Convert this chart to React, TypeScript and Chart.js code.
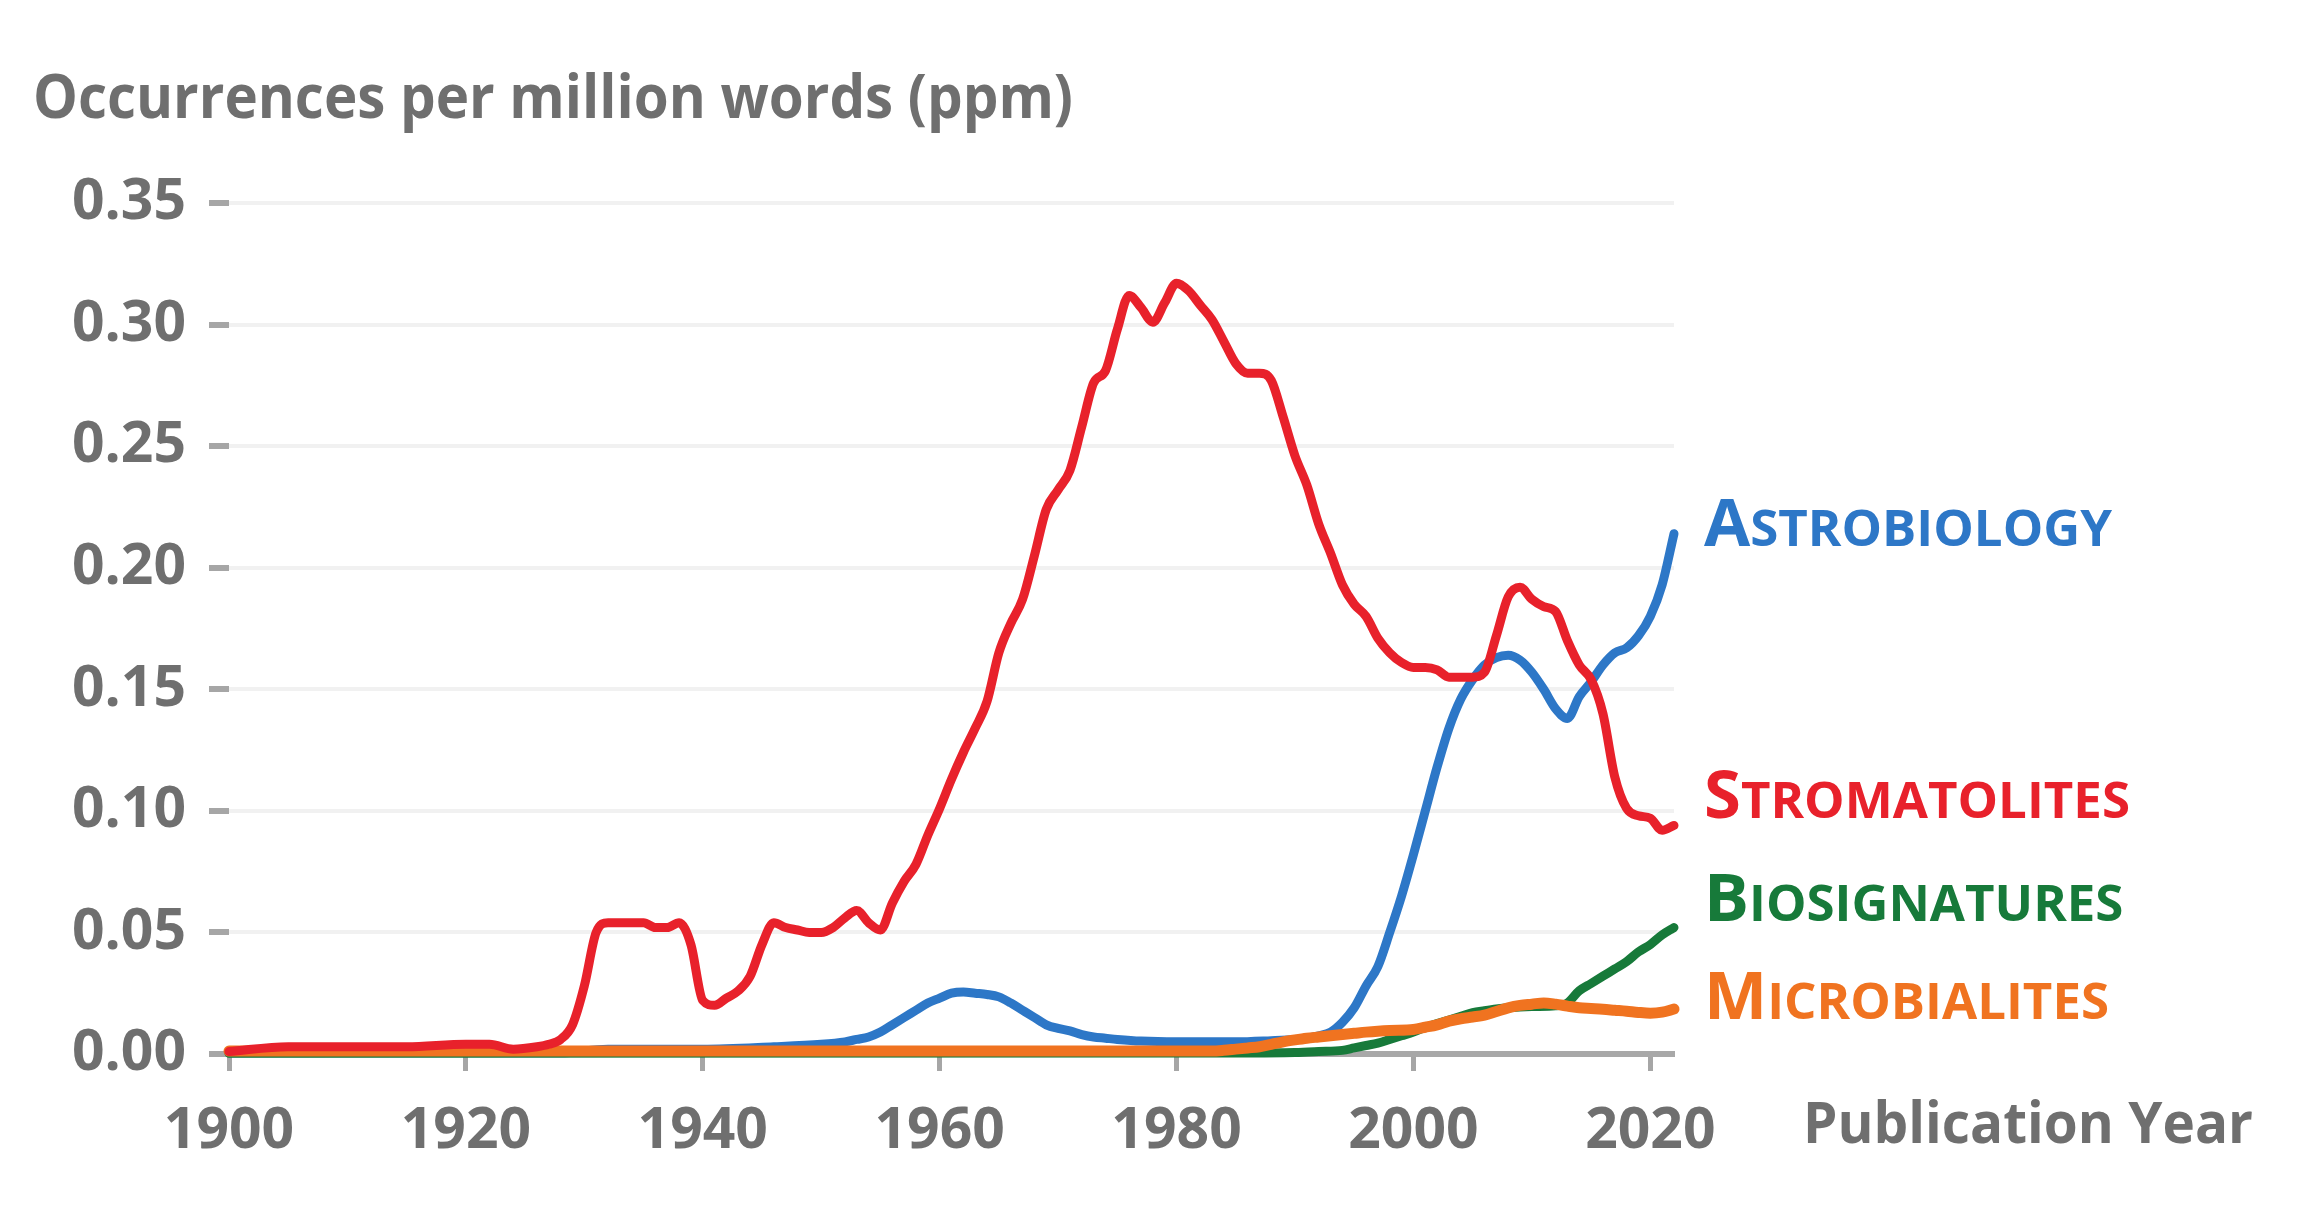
import { useEffect, useRef } from "react";
import { Chart, ChartConfiguration, registerables } from "chart.js";

Chart.register(...registerables);

// [year, occurrences per million words]
const ASTROBIOLOGY: [number, number][] = [
  [1900, 0.0005], [1928, 0.0005], [1932, 0.002], [1940, 0.002], [1946, 0.003], [1950, 0.004],
  [1952, 0.005], [1953, 0.006], [1954, 0.007], [1955, 0.009], [1956, 0.012], [1957, 0.015],
  [1958, 0.018], [1959, 0.021], [1960, 0.023], [1961, 0.025], [1962, 0.0255], [1963, 0.025],
  [1964, 0.0245], [1965, 0.0235], [1966, 0.021], [1967, 0.018], [1968, 0.015], [1969, 0.012],
  [1970, 0.0105], [1971, 0.0095], [1972, 0.008], [1973, 0.007], [1974, 0.0065], [1975, 0.006],
  [1977, 0.0053], [1980, 0.005], [1985, 0.005], [1988, 0.0055], [1990, 0.006], [1991, 0.0065],
  [1992, 0.0075], [1993, 0.009], [1994, 0.013], [1995, 0.019], [1996, 0.028], [1997, 0.036],
  [1998, 0.05], [1999, 0.065], [2000, 0.082], [2001, 0.1], [2002, 0.118], [2003, 0.134],
  [2004, 0.146], [2005, 0.154], [2006, 0.16], [2007, 0.163], [2008, 0.164], [2009, 0.162],
  [2010, 0.157], [2011, 0.15], [2012, 0.142], [2013, 0.138], [2014, 0.147], [2015, 0.153],
  [2016, 0.16], [2017, 0.165], [2018, 0.167], [2019, 0.172], [2020, 0.18], [2021, 0.193],
  [2022, 0.214],
];

const STROMATOLITES: [number, number][] = [
  [1900, 0.001], [1905, 0.003], [1910, 0.003], [1915, 0.003], [1920, 0.004], [1922, 0.004],
  [1924, 0.002], [1926, 0.003], [1927, 0.004], [1928, 0.006], [1929, 0.012], [1930, 0.028],
  [1931, 0.05], [1932, 0.054], [1933, 0.054], [1934, 0.054], [1935, 0.054], [1936, 0.052],
  [1937, 0.052], [1938, 0.054], [1939, 0.045], [1940, 0.022], [1941, 0.02], [1942, 0.023],
  [1943, 0.026], [1944, 0.032], [1945, 0.045], [1946, 0.054], [1947, 0.052], [1948, 0.051],
  [1949, 0.05], [1950, 0.05], [1951, 0.052], [1952, 0.056], [1953, 0.059], [1954, 0.054],
  [1955, 0.051], [1956, 0.062], [1957, 0.071], [1958, 0.078], [1959, 0.09], [1960, 0.101],
  [1961, 0.113], [1962, 0.124], [1963, 0.134], [1964, 0.145], [1965, 0.165], [1966, 0.177],
  [1967, 0.187], [1968, 0.205], [1969, 0.224], [1970, 0.232], [1971, 0.24], [1972, 0.258],
  [1973, 0.276], [1974, 0.281], [1975, 0.298], [1976, 0.312], [1977, 0.307], [1978, 0.301],
  [1979, 0.309], [1980, 0.317], [1981, 0.314], [1982, 0.308], [1983, 0.302], [1984, 0.293],
  [1985, 0.284], [1986, 0.28], [1987, 0.28], [1988, 0.277], [1989, 0.262], [1990, 0.246],
  [1991, 0.234], [1992, 0.218], [1993, 0.206], [1994, 0.193], [1995, 0.185], [1996, 0.18],
  [1997, 0.171], [1998, 0.165], [1999, 0.161], [2000, 0.159], [2001, 0.159], [2002, 0.158],
  [2003, 0.155], [2004, 0.155], [2005, 0.155], [2006, 0.157], [2007, 0.172], [2008, 0.188],
  [2009, 0.192], [2010, 0.187], [2011, 0.184], [2012, 0.182], [2013, 0.17], [2014, 0.16],
  [2015, 0.154], [2016, 0.14], [2017, 0.114], [2018, 0.101], [2019, 0.098], [2020, 0.097],
  [2021, 0.092], [2022, 0.094],
];

const BIOSIGNATURES: [number, number][] = [
  [1900, 0.0003], [1985, 0.0004], [1990, 0.0006], [1992, 0.001], [1994, 0.0015], [1995, 0.0025],
  [1996, 0.0035], [1997, 0.0045], [1998, 0.006], [1999, 0.0075], [2000, 0.009], [2001, 0.011],
  [2002, 0.0125], [2003, 0.014], [2004, 0.0155], [2005, 0.017], [2006, 0.0178], [2007, 0.0185],
  [2008, 0.019], [2010, 0.0195], [2012, 0.0198], [2013, 0.021], [2014, 0.026], [2015, 0.029],
  [2016, 0.032], [2017, 0.035], [2018, 0.038], [2019, 0.042], [2020, 0.045], [2021, 0.049],
  [2022, 0.052],
];

const MICROBIALITES: [number, number][] = [
  [1900, 0.0012], [1983, 0.0012], [1984, 0.0015], [1985, 0.002], [1986, 0.0025], [1987, 0.003],
  [1988, 0.004], [1989, 0.005], [1990, 0.0058], [1991, 0.0065], [1992, 0.007], [1993, 0.0075],
  [1994, 0.008], [1995, 0.0085], [1996, 0.009], [1997, 0.0094], [1998, 0.0097], [2000, 0.0101],
  [2001, 0.011], [2002, 0.012], [2003, 0.0135], [2004, 0.0145], [2005, 0.0152], [2006, 0.016],
  [2007, 0.0175], [2008, 0.019], [2009, 0.02], [2010, 0.0205], [2011, 0.021], [2012, 0.0205],
  [2013, 0.0197], [2014, 0.019], [2015, 0.0187], [2016, 0.0184], [2017, 0.018], [2018, 0.0176],
  [2019, 0.0171], [2020, 0.0168], [2021, 0.0172], [2022, 0.0185],
];

const SERIES_NAMES = ["Astrobiology", "Stromatolites", "Biosignatures", "Microbialites"];
// value on the y scale where each name sits (baseline)
const NAME_LEVELS = [0.209, 0.097, 0.0546, 0.0146];
const Y_TICKS = [0, 0.05, 0.1, 0.15, 0.2, 0.25, 0.3, 0.35];

const COLORS = ["#2D77C7", "#E8212B", "#177A3A", "#F07320"];
const TEXT_GRAY = "#6F6F6F";
const FONT = '"Open Sans", "DejaVu Sans", sans-serif';

const textPlugin = {
  id: "directLabels",
  afterDraw(chart: Chart) {
    const { ctx, chartArea, scales } = chart;
    ctx.save();
    ctx.fillStyle = TEXT_GRAY;
    ctx.textAlign = "left";
    ctx.textBaseline = "alphabetic";
    ctx.font = `bold 60px ${FONT}`;
    ctx.fillText("Occurrences per million words (ppm)", 33, 118, 1040);
    ctx.font = `bold 58px ${FONT}`;
    ctx.fillText("Publication Year", 1803, 1143, 450);

    const x0 = chartArea.right + 30;
    SERIES_NAMES.forEach((name, i) => {
      const y = scales.y.getPixelForValue(NAME_LEVELS[i]);
      ctx.fillStyle = COLORS[i];
      ctx.font = `bold 67px ${FONT}`;
      const first = name[0].toUpperCase();
      ctx.fillText(first, x0, y);
      const w = ctx.measureText(first).width;
      ctx.font = `bold 51px ${FONT}`;
      ctx.fillText(name.slice(1).toUpperCase(), x0 + w, y);
    });
    ctx.restore();
  },
};

function WordFrequencyChart() {
  const canvasRef = useRef<HTMLCanvasElement>(null);
  const chartRef = useRef<Chart | null>(null);

  useEffect(() => {
    document.body.style.margin = "0";
    if (!canvasRef.current) return;
    const ctx = canvasRef.current.getContext("2d");
    if (!ctx) return;

    if (chartRef.current) chartRef.current.destroy();

    const all = [ASTROBIOLOGY, STROMATOLITES, BIOSIGNATURES, MICROBIALITES];
    // red on top, then orange, green, blue underneath
    const drawOrder = [3, 0, 2, 1];

    const config: ChartConfiguration = {
      type: "line",
      data: {
        datasets: all.map((pts, i) => ({
          label: SERIES_NAMES[i],
          data: pts.map(([x, y]) => ({ x, y })),
          borderColor: COLORS[i],
          borderWidth: i === 3 ? 11 : 9,
          borderCapStyle: "round" as const,
          borderJoinStyle: "round" as const,
          pointRadius: 0,
          fill: false,
          cubicInterpolationMode: "monotone" as const,
          order: drawOrder[i],
          clip: 8,
        })),
      },
      options: {
        animation: false,
        responsive: true,
        maintainAspectRatio: false,
        events: [],
        layout: { padding: { top: 203, right: 637, left: 0, bottom: 0 } },
        plugins: {
          legend: { display: false },
          tooltip: { enabled: false },
          title: { display: false },
        },
        scales: {
          x: {
            type: "linear",
            min: 1900,
            max: 2022,
            afterFit: (s: any) => {
              s.height = 176;
            },
            grid: {
              drawOnChartArea: false,
              drawTicks: true,
              tickLength: 17,
              tickColor: "#A6A6A6",
              tickWidth: 5,
            },
            border: { display: true, color: "#A8A8A8", width: 6 },
            ticks: {
              stepSize: 20,
              includeBounds: false,
              padding: 27,
              color: TEXT_GRAY,
              font: { family: FONT, size: 57, weight: "bold" },
              callback: (v: any) => String(v),
              maxRotation: 0,
            },
          },
          y: {
            min: 0,
            max: 0.35,
            afterFit: (s: any) => {
              s.width = 229;
            },
            afterBuildTicks: (s: any) => {
              s.ticks = Y_TICKS.map((value) => ({ value }));
            },
            grid: {
              color: (c: any) => (c.tick && c.tick.value === 0 ? "rgba(0,0,0,0)" : "#F1F1F1"),
              lineWidth: 4,
              drawTicks: true,
              tickLength: 20,
              tickColor: "#A6A6A6",
              tickWidth: 6,
            },
            border: { display: false },
            ticks: {
              padding: 23,
              color: TEXT_GRAY,
              font: { family: FONT, size: 57, weight: "bold" },
              callback: (v: any) => Number(v).toFixed(2),
            },
          },
        },
      },
      plugins: [textPlugin],
    };

    chartRef.current = new Chart(ctx, config);

    return () => {
      if (chartRef.current) {
        chartRef.current.destroy();
        chartRef.current = null;
      }
    };
  }, []);

  return (
    <div style={{ width: "2311px", height: "1230px", position: "relative", background: "#fff" }}>
      <canvas ref={canvasRef} />
    </div>
  );
}

export default function App() {
  return <WordFrequencyChart />;
}
